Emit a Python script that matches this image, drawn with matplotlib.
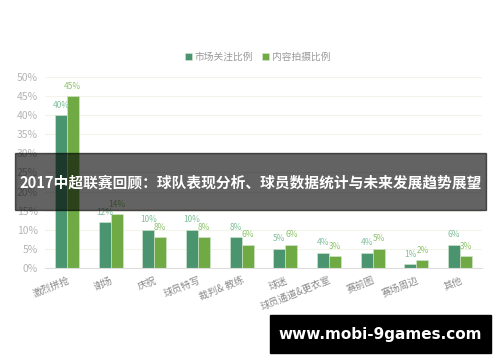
import matplotlib.pyplot as plt
from matplotlib.patches import Rectangle
import numpy as np

plt.rcParams['font.family'] = ['Noto Sans CJK SC', 'DejaVu Sans']

# 数据
categories = ['激烈拼抢', '谢场', '庆祝', '球员特写', '裁判& 教练', '球迷',
              '球员通道&更衣室', '赛前图', '赛场周边', '其他']
market = [40, 12, 10, 10, 8, 5, 4, 4, 1, 6]      # 市场关注比例
content = [45, 14, 8, 8, 6, 6, 3, 5, 2, 3]       # 内容拍摄比例
yticks = [0, 5, 10, 15, 20, 25, 30, 35, 40, 45, 50]

c_market = '#4a9470'
c_content = '#6faa45'

fig = plt.figure(figsize=(5, 3.62), dpi=100)
ax = fig.add_axes([0.09, 0.26, 0.874, 0.527])

x = np.arange(len(categories))
w = 0.275
b1 = ax.bar(x - w / 2, market, w, color=c_market, edgecolor='#d8e8d0', linewidth=0.4,
            label='市场关注比例', zorder=2)
b2 = ax.bar(x + w / 2, content, w, color=c_content, edgecolor='#d8e8d0', linewidth=0.4,
            label='内容拍摄比例', zorder=2)

for xi, v in zip(x, market):
    ax.annotate(f'{v}%', (xi - w / 2, v), xytext=(0, 4), textcoords='offset points',
                ha='center', va='bottom', fontsize=6, color='#7fbf9a')
for xi, v in zip(x, content):
    ax.annotate(f'{v}%', (xi + w / 2, v), xytext=(0, 4), textcoords='offset points',
                ha='center', va='bottom', fontsize=6, color='#8ec46b')

ax.set_xlim(-0.5, len(categories) - 0.5)
ax.set_ylim(0, 50)
ax.set_yticks(yticks)
ax.set_yticklabels([f'{t}%' for t in yticks], fontsize=7.5, color='#b5b5b5')
ax.set_xticks(x)
ax.set_xticklabels(categories, rotation=22, ha='right', rotation_mode='anchor',
                   fontsize=7, color='#8a8a8a')
ax.tick_params(length=0, pad=5)
ax.grid(axis='y', color='#f2f4ec', linewidth=0.8, zorder=0)
for s in ['top', 'right', 'left']:
    ax.spines[s].set_visible(False)
ax.spines['bottom'].set_color('#dddddd')

fig.legend(handles=[b1, b2], loc='center', bbox_to_anchor=(0.515, 0.843), ncol=2,
           frameon=False, fontsize=7, handlelength=0.7, handleheight=0.7,
           handletextpad=0.3, columnspacing=0.9, labelcolor='#999999')

# 标题横幅
fig.patches.append(Rectangle((15 / 500, 1 - 210 / 362), 471 / 500, 57 / 362,
                             transform=fig.transFigure, color='black', alpha=0.61,
                             zorder=5))
fig.text(0.501, 1 - 182 / 362, '2017中超联赛回顾：球队表现分析、球员数据统计与未来发展趋势展望',
         ha='center', va='center', color='white', fontsize=10.6, fontweight='bold',
         zorder=6)

# 水印
fig.patches.append(Rectangle((270 / 500, 1 - 353 / 362), 221 / 500, 38 / 362,
                             transform=fig.transFigure, color='black', zorder=5))
fig.text(380 / 500, 1 - 334 / 362, 'www.mobi-9games.com', ha='center', va='center',
         color='white', fontsize=11, fontweight='bold', family='DejaVu Sans', zorder=6)

fig.savefig('out.png', dpi=100)
